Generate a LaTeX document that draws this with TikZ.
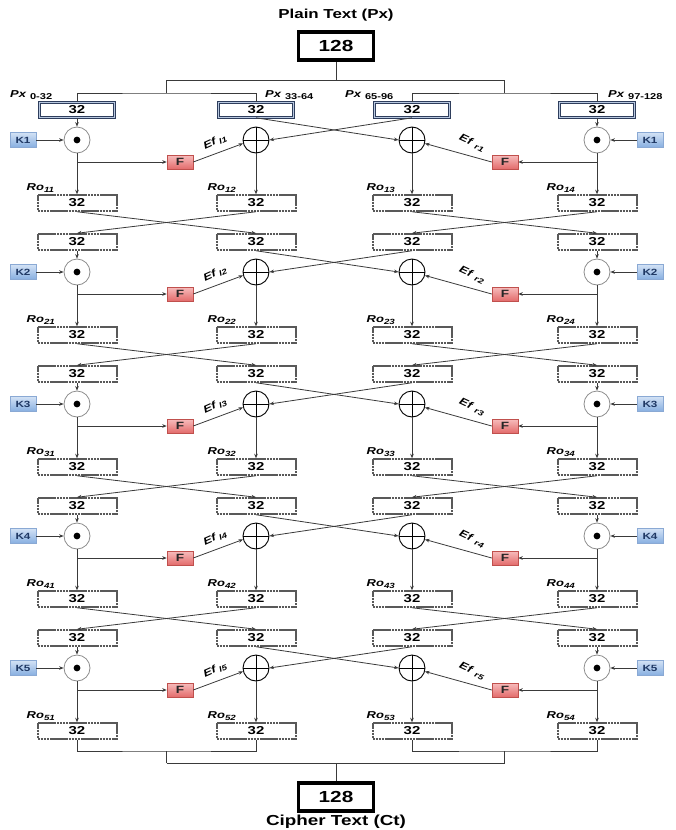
\documentclass[tikz,border=0pt]{standalone}
\usepackage{fontspec}
\usepackage{graphicx}
\setmainfont[FakeStretch=1.3]{Liberation Sans}
\usetikzlibrary{arrows.meta,calc}

\definecolor{pxnavy}{HTML}{2E3D5C}
\definecolor{pxinner}{HTML}{B8C8E0}
\definecolor{kfillA}{HTML}{D3E2F5}
\definecolor{kfillB}{HTML}{86AEE0}
\definecolor{kline}{HTML}{8AA9D4}
\definecolor{ktext}{HTML}{1F3864}
\definecolor{ffillA}{HTML}{F7BDBD}
\definecolor{ffillB}{HTML}{E36B6B}
\definecolor{fline}{HTML}{C0504D}
\definecolor{wirec}{HTML}{3A3A3A}

\newcommand{\pxsub}[1]{\hspace{4pt}\raisebox{-2.2pt}{\upshape\fontsize{8.5}{8.5}\selectfont #1}}
\newcommand{\smallsub}[1]{\raisebox{-2pt}{\fontsize{7.5}{7.5}\selectfont #1}}
\newcommand{\efsub}[1]{\raisebox{-1.5pt}{\fontsize{7.5}{7.5}\selectfont #1}}

\tikzset{
  wire/.style={draw=wirec, line width=0.8pt},
  arr/.style={wire, -{Stealth[length=4.5pt,width=3.6pt]}},
  boxtext/.style={font=\bfseries\fontsize{11.5}{11.5}\selectfont},
  pxbox/.style={boxtext, draw=pxnavy, double=pxinner, double distance=0.6pt,
    line width=1.1pt, fill=white, minimum width=75pt, minimum height=14.5pt, inner sep=0pt},
  rbox/.style={boxtext, draw=black!65, line width=2pt, dash pattern=on 2.6pt off 0.5pt,
    fill=white, minimum width=79pt, minimum height=15.5pt, inner sep=0pt},
  bigbox/.style={draw=black, line width=3.8pt, fill=white, minimum width=75pt,
    minimum height=28pt, inner sep=0pt, font=\bfseries\fontsize{16}{16}\selectfont},
  kbox/.style={top color=kfillA, bottom color=kfillB, draw=kline, line width=0.4pt,
    minimum width=26pt, minimum height=15pt, inner sep=0pt, text=ktext,
    font=\bfseries\fontsize{9}{9}\selectfont},
  fbox/.style={top color=ffillA, bottom color=ffillB, draw=fline, line width=0.5pt,
    minimum width=26pt, minimum height=14pt, inner sep=0pt, text=black!85,
    font=\bfseries\fontsize{10.5}{10.5}\selectfont},
  odotc/.style={circle, draw=black!45, line width=0.8pt, fill=white, minimum size=26pt,
    inner sep=0pt, path picture={\fill[black] (path picture bounding box.center) circle (3.4pt);}},
  opc/.style={circle, draw=black, line width=0.9pt, fill=white, minimum size=26pt,
    inner sep=0pt, path picture={\draw[black,line width=0.9pt]
      (path picture bounding box.north) -- (path picture bounding box.south)
      (path picture bounding box.west) -- (path picture bounding box.east);}},
  lab/.style={font=\bfseries\itshape\fontsize{10}{10}\selectfont, inner sep=0pt},
  ttl/.style={font=\bfseries\fontsize{13}{13}\selectfont, inner sep=0pt},
}

\begin{document}
\begin{tikzpicture}[x=1pt,y=-1pt]
\useasboundingbox (0,0) rectangle (675,830);

\def\xA{77}\def\xB{256}\def\xC{412}\def\xD{597}

% plain text block
\node[ttl] (ptt) at (336,15) {Plain Text (Px)};
\node[bigbox] (pt) at (336,46) {128};

% five rounds
\foreach \r in {1,...,5}{
  \pgfmathsetmacro{\c}{140+132*(\r-1)}
  \ifnum\r=1 \def\bs{pxbox}\else\def\bs{rbox}\fi
  \node[\bs] (inA\r) at (\xA,\c-30) {32};
  \node[\bs] (inB\r) at (\xB,\c-30) {32};
  \node[\bs] (inC\r) at (\xC,\c-30) {32};
  \node[\bs] (inD\r) at (\xD,\c-30) {32};
  \node[odotc] (odA\r) at (\xA,\c) {};
  \node[opc]   (opB\r) at (\xB,\c) {};
  \node[opc]   (opC\r) at (\xC,\c) {};
  \node[odotc] (odD\r) at (\xD,\c) {};
  \node[kbox] (KL\r) at (23,\c) {K\r};
  \node[kbox] (KR\r) at (650,\c) {K\r};
  \node[fbox] (FL\r) at (180,\c+22) {F};
  \node[fbox] (FR\r) at (505,\c+22) {F};
  \node[rbox] (roA\r) at (\xA,\c+63) {32};
  \node[rbox] (roB\r) at (\xB,\c+63) {32};
  \node[rbox] (roC\r) at (\xC,\c+63) {32};
  \node[rbox] (roD\r) at (\xD,\c+63) {32};
  \coordinate (jA\r) at (\xA,\c+22);
  \coordinate (jD\r) at (\xD,\c+22);

  \draw[arr] (inA\r) -- (odA\r);
  \draw[arr] (inD\r) -- (odD\r);
  \draw[arr] (KL\r) -- (odA\r);
  \draw[arr] (KR\r) -- (odD\r);
  \draw[arr] (odA\r) -- (roA\r);
  \draw[arr] (odD\r) -- (roD\r);
  \draw[arr] (jA\r) -- (FL\r);
  \draw[arr] (jD\r) -- (FR\r);
  \draw[arr] (opB\r) -- (roB\r);
  \draw[arr] (opC\r) -- (roC\r);
  \draw[arr] (FL\r.east) -- (opB\r.195);
  \draw[arr] (FR\r.west) -- (opC\r.-15);
  \draw[arr] (inB\r.south) -- (opC\r.west);
  \draw[arr] (inC\r.south) -- (opB\r.east);

  \node[lab, rotate=24] at ([xshift=35pt,yshift=20pt]FL\r.center) {Ef\hspace{3pt}\smallsub{l\r}};
  \node[lab, rotate=-25] at ([xshift=-33pt,yshift=19pt]FR\r.center) {Ef\hspace{4.5pt}\efsub{r\r}};

  \node[lab, anchor=base west] at ([xshift=-10pt,yshift=4pt]roA\r.north west) {Ro\smallsub{\r1}};
  \node[lab, anchor=base west] at ([xshift=-8pt,yshift=4pt]roB\r.north west) {Ro\smallsub{\r2}};
  \node[lab, anchor=base west] at ([xshift=-5pt,yshift=4pt]roC\r.north west) {Ro\smallsub{\r3}};
  \node[lab, anchor=base west] at ([xshift=-10pt,yshift=4pt]roD\r.north west) {Ro\smallsub{\r4}};
}

% swaps between rounds
\foreach \r [evaluate=\r as \n using int(\r+1)] in {1,...,4}{
  \draw[arr] (roA\r.south) -- (inB\n.north);
  \draw[arr] (roB\r.south) -- (inA\n.north);
  \draw[arr] (roC\r.south) -- (inD\n.north);
  \draw[arr] (roD\r.south) -- (inC\n.north);
}

% input labels
\node[lab, anchor=base west] (px1) at (10,97)  {Px\pxsub{0-32}};
\node[lab, anchor=base west] (px2) at (265,97) {Px\pxsub{33-64}};
\node[lab, anchor=base west] (px3) at (345,97) {Px\pxsub{65-96}};
\node[lab, anchor=base west] (px4) at (608,97) {Px\pxsub{97-128}};

% splitting the 128-bit block
\coordinate (t0)  at (336,80);
\coordinate (tL)  at (166.5,80);
\coordinate (tR)  at (504.5,80);
\coordinate (tLb) at (166.5,93);
\coordinate (tRb) at (504.5,93);
\draw[wire] (pt.south) -- (t0);
\draw[wire] (tL) -- (tR);
\draw[wire] (tL) -- (tLb);
\draw[wire] (tR) -- (tRb);
\draw[wire] (inA1.north) |- (tLb) -| (inB1.north);
\draw[wire] (inC1.north) |- (tRb) -| (inD1.north);

% joining into the cipher text
\node[bigbox] (ct) at (336,797) {128};
\node[ttl, font=\bfseries\fontsize{14.5}{14.5}\selectfont] (ctt) at (336,822) {Cipher Text (Ct)};
\coordinate (b0)  at (336,763);
\coordinate (bL)  at (166.5,763);
\coordinate (bR)  at (504.5,763);
\coordinate (bLb) at (166.5,751);
\coordinate (bRb) at (504.5,751);
\draw[wire] (roA5.south) |- (bLb) -| (roB5.south);
\draw[wire] (roC5.south) |- (bRb) -| (roD5.south);
\draw[wire] (bLb) -- (bL);
\draw[wire] (bRb) -- (bR);
\draw[wire] (bL) -- (bR);
\draw[wire] (b0) -- (ct.north);
\end{tikzpicture}
\end{document}
